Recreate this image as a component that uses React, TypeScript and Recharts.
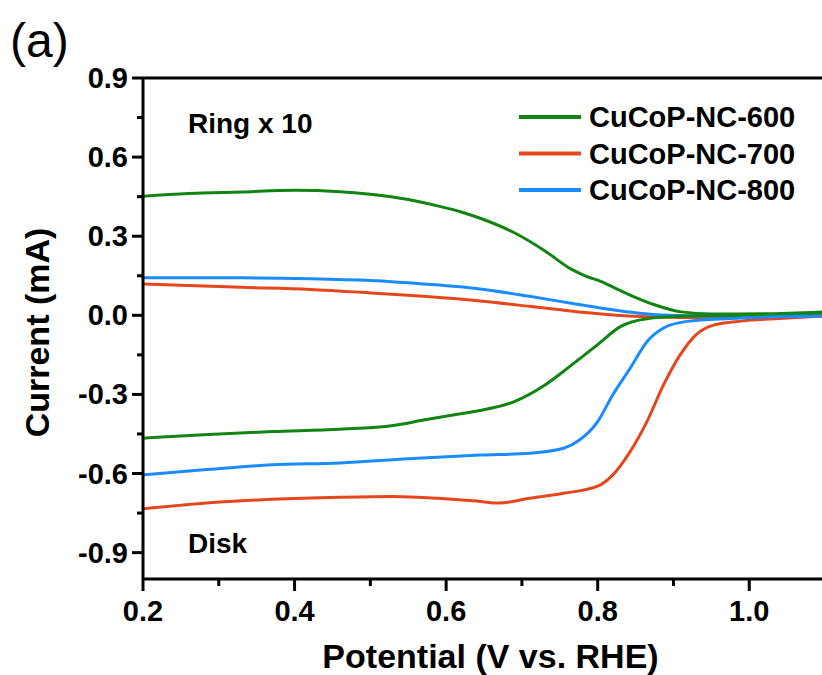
import React from 'react'
import { LineChart, Line, XAxis, YAxis, ReferenceLine, Legend } from 'recharts'

// potential (V vs. RHE), current (mA)
const ring600 = [
  [0.2, 0.452], [0.26, 0.462], [0.33, 0.468], [0.4, 0.474], [0.46, 0.469], [0.5, 0.459],
  [0.55, 0.439], [0.59, 0.414], [0.62, 0.392], [0.645, 0.368], [0.69, 0.313], [0.73, 0.245],
  [0.765, 0.175], [0.785, 0.148], [0.805, 0.128], [0.825, 0.1], [0.845, 0.074], [0.875, 0.04],
  [0.91, 0.013], [0.95, 0.005], [1.02, 0.006], [1.096, 0.013],
]
const ring700 = [
  [0.2, 0.119], [0.33, 0.106], [0.42, 0.098], [0.5, 0.085], [0.57, 0.072], [0.645, 0.054],
  [0.71, 0.034], [0.775, 0.013], [0.84, -0.003], [0.91, -0.008], [0.975, -0.008], [1.096, -0.003],
]
const ring800 = [
  [0.2, 0.142], [0.33, 0.142], [0.42, 0.139], [0.5, 0.132], [0.57, 0.119], [0.645, 0.1],
  [0.71, 0.072], [0.775, 0.041], [0.84, 0.013], [0.885, 0.001], [0.95, -0.003], [1.02, -0.003],
  [1.096, 0.0],
]
const disk600 = [
  [0.2, -0.466], [0.28, -0.453], [0.37, -0.441], [0.46, -0.432], [0.53, -0.418], [0.57, -0.397],
  [0.615, -0.375], [0.645, -0.361], [0.69, -0.327], [0.73, -0.265], [0.765, -0.19], [0.8, -0.111],
  [0.83, -0.043], [0.865, -0.013], [0.91, -0.004], [1.0, 0.0], [1.096, 0.005],
]
const disk700 = [
  [0.2, -0.734], [0.28, -0.713], [0.37, -0.698], [0.46, -0.69], [0.53, -0.687], [0.59, -0.694],
  [0.645, -0.706], [0.67, -0.712], [0.71, -0.694], [0.755, -0.675], [0.8, -0.648], [0.82, -0.605],
  [0.843, -0.516], [0.865, -0.403], [0.887, -0.263], [0.909, -0.149], [0.93, -0.073],
  [0.952, -0.038], [0.99, -0.022], [1.04, -0.012], [1.096, -0.003],
]
const disk800 = [
  [0.2, -0.605], [0.28, -0.586], [0.37, -0.567], [0.46, -0.56], [0.55, -0.544], [0.645, -0.53],
  [0.71, -0.523], [0.755, -0.504], [0.775, -0.475], [0.8, -0.403], [0.82, -0.301], [0.843, -0.2],
  [0.865, -0.1], [0.887, -0.048], [0.918, -0.023], [0.975, -0.012], [1.096, -0.003],
]

const names = ['CuCoP-NC-600', 'CuCoP-NC-700', 'CuCoP-NC-800']
const colors = ['#128412', '#e4471c', '#1a8cff']

const xTicks = [0.2, 0.3, 0.4, 0.5, 0.6, 0.7, 0.8, 0.9, 1.0]
const xMajor = [0.2, 0.4, 0.6, 0.8, 1.0]
const yTicks = [-0.9, -0.75, -0.6, -0.45, -0.3, -0.15, 0, 0.15, 0.3, 0.45, 0.6, 0.75, 0.9]
const yMajor = [-0.9, -0.6, -0.3, 0, 0.3, 0.6, 0.9]

const FONT = '"Liberation Sans", Arial, Helvetica, sans-serif'

const toRows = (pts: number[][]) => pts.map(([v, i]) => ({ v, i }))
const isIn = (list: number[], v: number) => list.some(t => Math.abs(t - v) < 1e-6)

const XTick = ({ x, y, payload }: any) => {
  const major = isIn(xMajor, payload.value)
  return (
    <g>
      <line x1={x} x2={x} y1={y} y2={y + (major ? 12 : 7)} stroke="#000" strokeWidth={3} />
      {major && (
        <text x={x} y={y + 42} textAnchor="middle" fontFamily={FONT} fontWeight="bold" fontSize={29} fill="#000">
          {payload.value.toFixed(1)}
        </text>
      )}
    </g>
  )
}

const YTick = ({ x, y, payload }: any) => {
  const major = isIn(yMajor, payload.value)
  return (
    <g>
      <line x1={x} x2={x - (major ? 11 : 6)} y1={y} y2={y} stroke="#000" strokeWidth={3} />
      {major && (
        <text x={x - 15} y={y + 10} textAnchor="end" fontFamily={FONT} fontWeight="bold" fontSize={29} fill="#000">
          {payload.value.toFixed(1)}
        </text>
      )}
    </g>
  )
}

const YTitle = ({ viewBox }: any) => {
  const cy = viewBox.y + viewBox.height / 2 + 4
  return (
    <text x={0} y={0} transform={`translate(49, ${cy}) rotate(-90)`} textAnchor="middle"
      fontFamily={FONT} fontWeight="bold" fontSize={34} fill="#000">
      Current (mA)
    </text>
  )
}

const XTitle = ({ viewBox }: any) => (
  <text x={viewBox.x + viewBox.width / 2 + 8} y={668} textAnchor="middle"
    fontFamily={FONT} fontWeight="bold" fontSize={34} fill="#000">
    Potential (V vs. RHE)
  </text>
)

const LegendBox = () => (
  <svg width={300} height={110}>
    {names.map((n, k) => (
      <g key={n}>
        <line x1={0} x2={62} y1={17 + k * 36.5} y2={17 + k * 36.5} stroke={colors[k]} strokeWidth={4} />
        <text x={70} y={27 + k * 36.5} fontFamily={FONT} fontWeight="bold" fontSize={29} fill="#000">{n}</text>
      </g>
    ))}
  </svg>
)

export default function App() {
  const series = [
    { key: 'r600', data: ring600, c: colors[0] },
    { key: 'r700', data: ring700, c: colors[1] },
    { key: 'r800', data: ring800, c: colors[2] },
    { key: 'd600', data: disk600, c: colors[0] },
    { key: 'd700', data: disk700, c: colors[1] },
    { key: 'd800', data: disk800, c: colors[2] },
  ]
  return (
    <div style={{ position: 'absolute', left: 0, top: 0, width: 822, height: 675, background: '#fff' }}>
      <LineChart width={822} height={675} margin={{ top: 78, right: 0, bottom: 36, left: 0 }}>
        <XAxis type="number" dataKey="v" domain={[0.2, 1.096]} ticks={xTicks} interval={0}
          allowDataOverflow height={60} tickSize={0} tickMargin={0} tickLine={false}
          axisLine={{ stroke: '#000', strokeWidth: 3 }} tick={<XTick />} label={<XTitle />} />
        <YAxis type="number" domain={[-1.0, 0.9]} ticks={yTicks} interval={0} allowDataOverflow
          width={143} tickSize={0} tickMargin={0} tickLine={false}
          axisLine={{ stroke: '#000', strokeWidth: 3 }} tick={<YTick />} label={<YTitle />} />
        <ReferenceLine y={0.9} stroke="#000" strokeWidth={3} />
        {series.map(s => (
          <Line key={s.key} data={toRows(s.data)} dataKey="i" type="monotone" stroke={s.c}
            strokeWidth={3} dot={false} activeDot={false} legendType="none" isAnimationActive={false} />
        ))}
        <Legend layout="vertical" align="center" verticalAlign="middle" content={<LegendBox />}
          wrapperStyle={{ left: 519, top: 100, width: 300, height: 110 }} />
      </LineChart>
      <svg width={822} height={675} style={{ position: 'absolute', left: 0, top: 0, pointerEvents: 'none' }}>
        <text x={10} y={57} fontFamily={FONT} fontSize={48} fill="#000">(a)</text>
        <text x={188} y={133} fontFamily={FONT} fontWeight="bold" fontSize={28} fill="#000">Ring x 10</text>
        <text x={188} y={553} fontFamily={FONT} fontWeight="bold" fontSize={28} fill="#000">Disk</text>
      </svg>
    </div>
  )
}
